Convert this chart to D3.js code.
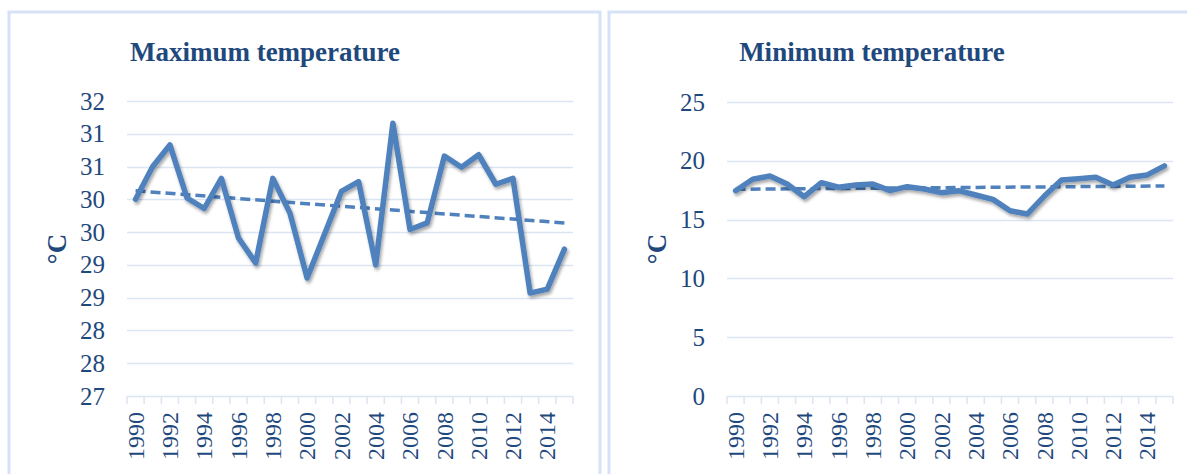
<!DOCTYPE html>
<html>
<head>
<meta charset="utf-8">
<script src="https://cdn.jsdelivr.net/npm/d3@7"></script>
<style>
  body { margin: 0; background: #fff; }
  svg { display: block; font-family: "Liberation Serif", "Times New Roman", serif; }
</style>
</head>
<body>
<svg id="chart"></svg>
<script>
const years = d3.range(1990, 2016);
const yearLabels = years.filter((d, i) => i % 2 === 0);

const maxTemp = [30.0, 30.5, 30.83, 30.02, 29.86, 30.32, 29.41, 29.03, 30.32, 29.79,
                 28.8, 29.46, 30.12, 30.27, 29.0, 31.16, 29.54, 29.64, 30.66, 30.49,
                 30.68, 30.23, 30.32, 28.57, 28.63, 29.24];
const minTemp = [17.46, 18.43, 18.71, 18.03, 16.95, 18.14, 17.75, 17.94, 18.03, 17.46,
                 17.8, 17.6, 17.29, 17.46, 17.09, 16.72, 15.75, 15.47, 17.0, 18.37,
                 18.48, 18.6, 17.94, 18.6, 18.8, 19.57];

// trendline ends (1990, 2015)
const maxTrend = [30.13, 29.64];
const minTrend = [17.58, 17.86];

// y ticks; the left chart shows half-degree steps rounded to whole numbers
const maxTicks = [27, 27.5, 28, 28.5, 29, 29.5, 30, 30.5, 31, 31.5];
const maxTickLabels = ["27", "28", "28", "29", "29", "30", "30", "31", "31", "32"];
const minTicks = [0, 5, 10, 15, 20, 25];
const minTickLabels = ["0", "5", "10", "15", "20", "25"];

const width = 1187;
const height = 474;
const textColor = "#1f497d";
const lineColor = "#4f81bd";
const gridColor = "#dbe5f4";
const borderColor = "#d6e2f5";

const svg = d3.select("#chart")
      .attr("width", width)
      .attr("height", height)
      .attr("viewBox", [0, 0, width, height]);

const defs = svg.append("defs");
defs.append("filter")
    .attr("id", "shadow")
    .attr("x", "-5%").attr("y", "-20%")
    .attr("width", "110%").attr("height", "140%")
  .append("feDropShadow")
    .attr("dx", 1.5)
    .attr("dy", 2.5)
    .attr("stdDeviation", 1.6)
    .attr("flood-color", "#000")
    .attr("flood-opacity", 0.35);

function drawPanel(opts) {
  const g = svg.append("g");

  // chart area border
  g.append("rect")
    .attr("x", opts.box[0])
    .attr("y", opts.box[1])
    .attr("width", opts.box[2])
    .attr("height", opts.box[3])
    .attr("fill", "none")
    .attr("stroke", borderColor)
    .attr("stroke-width", 3);

  g.append("text")
    .attr("x", opts.titleX)
    .attr("y", 61)
    .attr("text-anchor", "middle")
    .attr("font-size", 27)
    .attr("font-weight", "bold")
    .attr("fill", textColor)
    .text(opts.title);

  const x = d3.scaleBand()
        .domain(years)
        .range([opts.left, opts.right]);
  const y = d3.scaleLinear()
        .domain([opts.ticks[0], opts.ticks[opts.ticks.length - 1]])
        .range([opts.bottom, opts.top]);

  // gridlines
  g.append("g")
    .selectAll("line")
    .data(opts.ticks.slice(1))
    .join("line")
      .attr("x1", opts.left)
      .attr("x2", opts.right)
      .attr("y1", d => Math.round(y(d)) + 0.5)
      .attr("y2", d => Math.round(y(d)) + 0.5)
      .attr("stroke", gridColor)
      .attr("stroke-width", 1.5);

  // y axis labels
  g.append("g")
    .selectAll("text")
    .data(opts.ticks)
    .join("text")
      .attr("x", opts.left - 22)
      .attr("y", d => y(d))
      .attr("dy", "0.34em")
      .attr("text-anchor", "end")
      .attr("font-size", 25)
      .attr("fill", textColor)
      .text((d, i) => opts.tickLabels[i]);

  // x axis: category axis with ticks between categories
  const xAxis = d3.axisBottom(x)
        .tickValues(yearLabels)
        .tickSize(0)
        .tickPadding(0);
  const ax = g.append("g")
        .attr("transform", `translate(0,${opts.bottom})`)
        .call(xAxis);
  ax.select(".domain").remove();
  ax.selectAll(".tick text")
    .attr("transform", "rotate(-90)")
    .attr("x", -16)
    .attr("y", 0)
    .attr("dy", "0.34em")
    .attr("text-anchor", "end")
    .attr("font-size", 24)
    .attr("font-family", "Liberation Serif, serif")
    .attr("fill", textColor);

  g.append("line")
    .attr("x1", opts.left)
    .attr("x2", opts.right)
    .attr("y1", opts.bottom + 0.5)
    .attr("y2", opts.bottom + 0.5)
    .attr("stroke", gridColor)
    .attr("stroke-width", 1.5);
  g.append("g")
    .selectAll("line")
    .data(d3.range(years.length + 1))
    .join("line")
      .attr("x1", i => opts.left + i * x.step())
      .attr("x2", i => opts.left + i * x.step())
      .attr("y1", opts.bottom)
      .attr("y2", opts.bottom + 8)
      .attr("stroke", gridColor)
      .attr("stroke-width", 1.5);

  // axis title
  g.append("text")
    .attr("transform", `translate(${opts.axisTitleX},249) rotate(-90)`)
    .attr("text-anchor", "middle")
    .attr("dy", "0.34em")
    .attr("font-size", 27)
    .attr("font-weight", "bold")
    .attr("fill", textColor)
    .text("°C");

  const cx = d => x(d) + x.bandwidth() / 2;

  // trendline
  const trendPts = [[years[0], opts.trend[0]], [years[years.length - 1], opts.trend[1]]];
  g.append("path")
    .attr("fill", "none")
    .attr("stroke", lineColor)
    .attr("stroke-width", 3.5)
    .attr("stroke-dasharray", "10,5")
    .attr("d", d3.line().x(d => cx(d[0])).y(d => y(d[1]))(trendPts));

  // series line
  const line = d3.line()
        .x((d, i) => cx(years[i]))
        .y(d => y(d));
  g.append("path")
    .attr("fill", "none")
    .attr("stroke", lineColor)
    .attr("stroke-width", 5.5)
    .attr("stroke-linejoin", "round")
    .attr("stroke-linecap", "round")
    .attr("filter", "url(#shadow)")
    .attr("d", line(opts.values));
}

drawPanel({
  box: [9, 12, 591, 480],
  title: "Maximum temperature",
  titleX: 265,
  left: 127, right: 573, top: 101, bottom: 396,
  ticks: maxTicks,
  tickLabels: maxTickLabels,
  values: maxTemp,
  trend: maxTrend,
  axisTitleX: 57
});

drawPanel({
  box: [609, 12, 600, 480],
  title: "Minimum temperature",
  titleX: 872,
  left: 727, right: 1173, top: 102, bottom: 396,
  ticks: minTicks,
  tickLabels: minTickLabels,
  values: minTemp,
  trend: minTrend,
  axisTitleX: 657
});
</script>
</body>
</html>
